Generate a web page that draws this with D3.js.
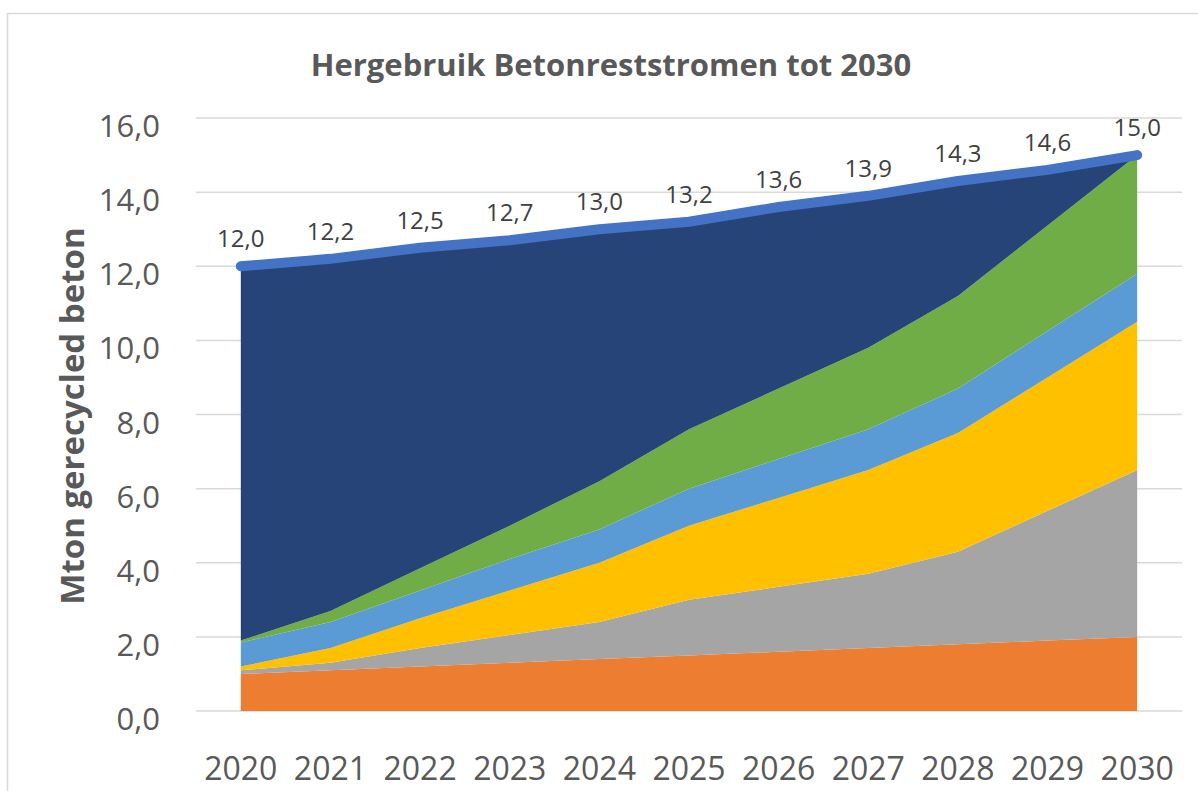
<!DOCTYPE html>
<html lang="nl">
<head>
  <meta charset="utf-8" />
  <title>Hergebruik Betonreststromen tot 2030</title>
  <style>
    body {
      margin: 0;
      padding: 0;
      background: #fff;
    }
    svg text {
      font-family: "Open Sans", "Noto Sans", sans-serif;
    }
  </style>
  <script src="https://d3js.org/d3.v7.min.js"></script>
</head>
<body>
  <svg width="1198" height="791"></svg>
  <script>
    // Jaren (categorie-as)
    const years = [2020, 2021, 2022, 2023, 2024, 2025, 2026, 2027, 2028, 2029, 2030];

    // Gestapelde reeksen (Mton), van onder naar boven
    const oranje      = [1.0, 1.1, 1.2, 1.3, 1.4, 1.5, 1.6, 1.7, 1.8, 1.9, 2.0];
    const grijs       = [0.1, 0.2, 0.5, 0.75, 1.0, 1.5, 1.75, 2.0, 2.5, 3.5, 4.5];
    const geel        = [0.1, 0.4, 0.8, 1.2, 1.6, 2.0, 2.4, 2.8, 3.2, 3.6, 4.0];
    const lichtblauw  = [0.65, 0.7, 0.75, 0.85, 0.9, 1.0, 1.05, 1.1, 1.2, 1.25, 1.3];
    const groen       = [0.05, 0.3, 0.6, 0.9, 1.3, 1.6, 1.9, 2.2, 2.5, 2.85, 3.2];
    const donkerblauw = [10.1, 9.5, 8.65, 7.7, 6.8, 5.6, 4.9, 4.1, 3.1, 1.5, 0.0];

    // Totaal (lijn met labels)
    const totaal = [12.0, 12.2, 12.5, 12.7, 13.0, 13.2, 13.6, 13.9, 14.3, 14.6, 15.0];

    const yTicks = [0, 2, 4, 6, 8, 10, 12, 14, 16];

    const seriesKeys = ["oranje", "grijs", "geel", "lichtblauw", "groen", "donkerblauw"];
    const seriesColors = ["#ED7D31", "#A5A5A5", "#FFC000", "#5B9BD5", "#70AD47", "#264478"];
    const seriesValues = [oranje, grijs, geel, lichtblauw, groen, donkerblauw];

    const table = years.map((year, i) => {
      const row = { year };
      seriesKeys.forEach((k, j) => row[k] = seriesValues[j][i]);
      return row;
    });

    const nl = d3.formatLocale({ decimal: ",", thousands: ".", grouping: [3], currency: ["€", ""] });
    const fmt = nl.format(".1f");

    const svg = d3.select("svg");

    // kaderrand
    svg.append("rect")
      .attr("x", 7.5).attr("y", 13.5)
      .attr("width", 1220).attr("height", 820)
      .attr("fill", "none")
      .attr("stroke", "#D9D9D9")
      .attr("stroke-width", 1.5);

    const x = d3.scalePoint()
      .domain(years)
      .range([196, 1182])
      .padding(0.5);

    const y = d3.scaleLinear()
      .domain([0, 16])
      .range([711, 118]);

    // rasterlijnen
    svg.append("g")
      .selectAll("line")
      .data(yTicks)
      .join("line")
      .attr("x1", 196)
      .attr("x2", 1182)
      .attr("y1", d => y(d))
      .attr("y2", d => y(d))
      .attr("stroke", "#D9D9D9")
      .attr("stroke-width", 1.5);

    // gestapelde vlakken
    const stack = d3.stack().keys(seriesKeys);
    const layers = stack(table);

    const area = d3.area()
      .x(d => x(d.data.year))
      .y0(d => y(d[0]))
      .y1(d => y(d[1]));

    svg.append("g")
      .selectAll("path")
      .data(layers)
      .join("path")
      .attr("d", area)
      .attr("fill", (d, i) => seriesColors[i]);

    // totaallijn
    const line = d3.line()
      .x((d, i) => x(years[i]))
      .y(d => y(d));

    svg.append("path")
      .datum(totaal)
      .attr("d", line)
      .attr("fill", "none")
      .attr("stroke", "#4472C4")
      .attr("stroke-width", 10)
      .attr("stroke-linecap", "round")
      .attr("stroke-linejoin", "round");

    // datalabels
    svg.append("g")
      .selectAll("text")
      .data(totaal)
      .join("text")
      .attr("x", (d, i) => x(years[i]))
      .attr("y", d => y(d) - 19)
      .attr("text-anchor", "middle")
      .attr("font-size", 24)
      .attr("fill", "#404040")
      .text(d => fmt(d));

    // y-as labels
    svg.append("g")
      .selectAll("text")
      .data(yTicks)
      .join("text")
      .attr("x", 160)
      .attr("y", d => y(d) + 19)
      .attr("text-anchor", "end")
      .attr("font-size", 31)
      .attr("fill", "#595959")
      .text(d => fmt(d));

    // x-as labels
    svg.append("g")
      .selectAll("text")
      .data(years)
      .join("text")
      .attr("x", d => x(d))
      .attr("y", 780)
      .attr("text-anchor", "middle")
      .attr("font-size", 32)
      .attr("fill", "#595959")
      .text(d => d);

    // titel
    svg.append("text")
      .attr("x", 611)
      .attr("y", 76)
      .attr("text-anchor", "middle")
      .attr("font-size", 31)
      .attr("font-weight", "bold")
      .attr("fill", "#595959")
      .text("Hergebruik Betonreststromen tot 2030");

    // y-as titel
    svg.append("text")
      .attr("transform", "translate(84,416) rotate(-90)")
      .attr("text-anchor", "middle")
      .attr("font-size", 33)
      .attr("font-weight", "bold")
      .attr("fill", "#595959")
      .text("Mton gerecycled beton");
  </script>
</body>
</html>
